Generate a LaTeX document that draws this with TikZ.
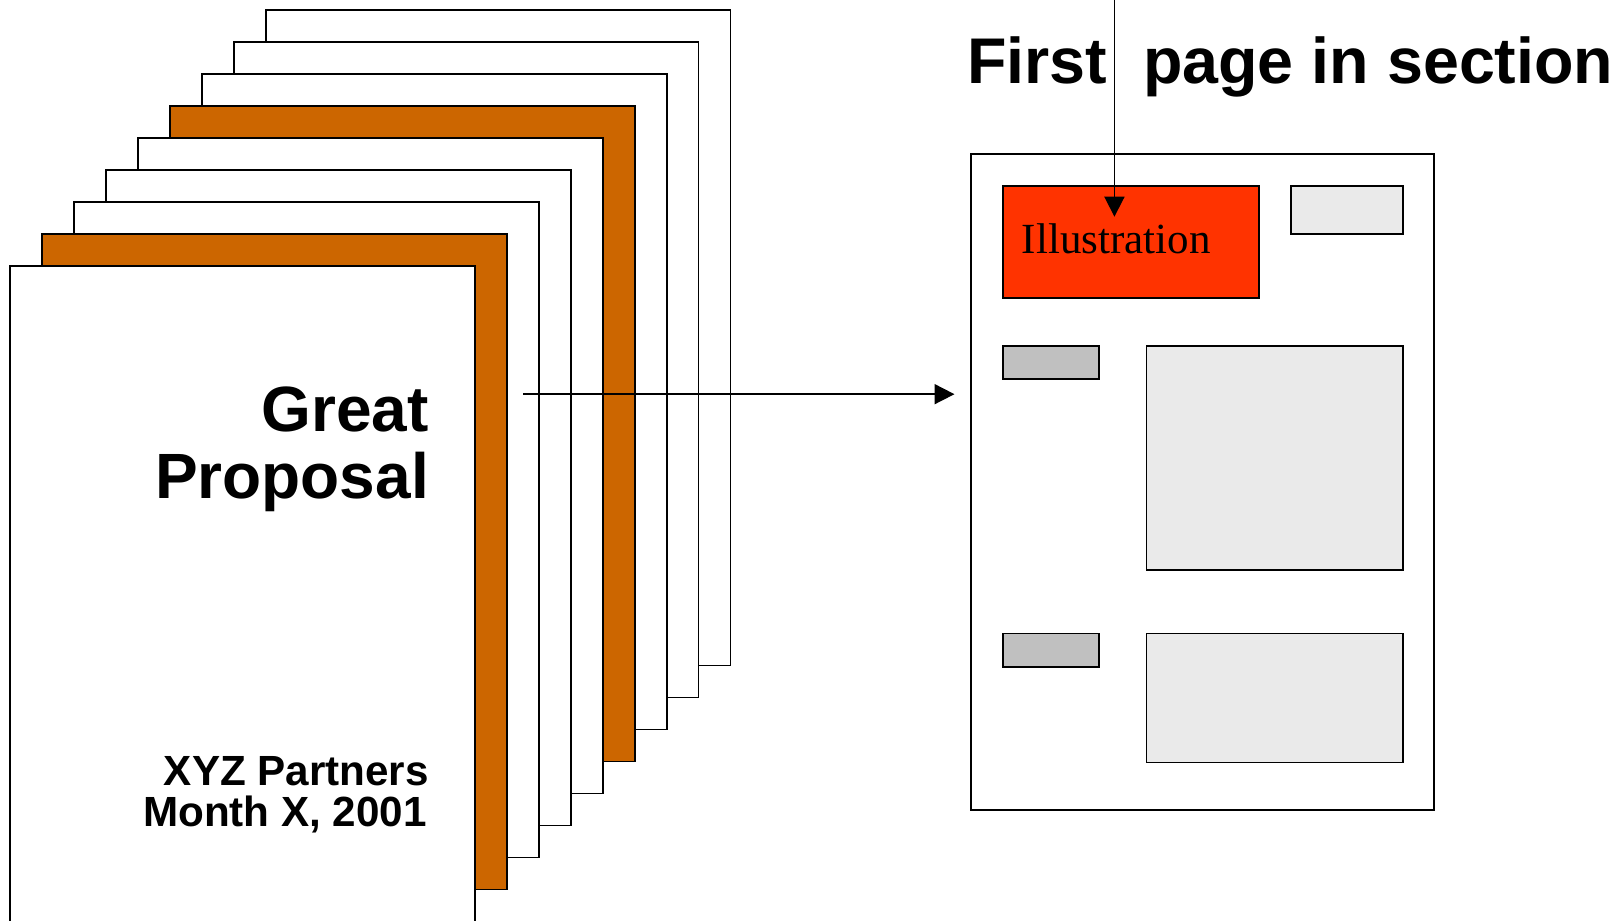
\documentclass[tikz,border=0pt]{standalone}
\usepackage{fontspec}
\setmainfont{Liberation Serif}
\setsansfont{Liberation Sans}
\usepackage{xcolor}
\usepackage{tikz}
\usetikzlibrary{arrows.meta,positioning,fit}

\definecolor{tabpage}{HTML}{CC6600}
\definecolor{illred}{HTML}{FF3300}
\definecolor{boxlight}{HTML}{EAEAEA}
\definecolor{boxdark}{HTML}{C0C0C0}

\begin{document}
\begin{tikzpicture}[x=0.516pt, y=-0.516pt,
sheet/.style={draw, line width=0.9pt},
area/.style={draw, line width=0.9pt, inner sep=0pt},
covertext/.style={font=\fontsize{32}{34}\selectfont\sffamily\bfseries, anchor=base east, inner sep=0pt},
covernote/.style={font=\fontsize{21.1}{23}\selectfont\sffamily\bfseries, anchor=base east, inner sep=0pt},
heading/.style={font=\fontsize{32.3}{34}\selectfont\sffamily\bfseries, anchor=base west, inner sep=0pt},
arrow/.style={-{Triangle[length=10pt,width=10pt]}, line width=0.9pt}
]
\useasboundingbox (0,0) rectangle (1568,893);
\clip (0,0) rectangle (1568,892);

% stack of pages, back to front
\foreach \i/\col in {8/white,7/white,6/white,5/tabpage,4/white,3/white,2/white,1/tabpage,0/white}
  \draw[sheet, fill=\col] ({10+31*\i},{258-31*\i}) rectangle ++(450,635);

\node[covertext] (great) at (416,418) {Great};
\node[covertext] (proposal) at (416,483) {Proposal};
\node[covernote] (partners) at (416,761) {XYZ Partners};
\node[covernote] (month) at (414,801) {Month X, 2001};

% first page of a section
\node[area, fill=white, fit={(941,149) (1390,785)}] (sect) {};
\node[area, fill=illred, fit={(972,180) (1220,289)}] (illus) {};
\node[font=\fontsize{21.5}{23}\selectfont, anchor=base west, inner sep=0pt] (illtext) at (990,246) {Illustration};
\node[area, fill=boxlight, fit={(1251,180) (1360,227)}] (logo) {};
\node[area, fill=boxdark, fit={(972,335) (1065,367)}] (head1) {};
\node[area, fill=boxlight, fit={(1111,335) (1360,552)}] (body1) {};
\node[area, fill=boxdark, fit={(972,614) (1065,646)}] (head2) {};
\node[area, fill=boxlight, fit={(1111,614) (1360,739)}] (body2) {};

\node[heading] (title) at (937,81) {First\ \ page in section};

\coordinate (arrstart) at (507,382);
\coordinate (arrtip) at (925,382);
\coordinate (toptail) at (1080,0);
\coordinate (toptip) at (1080,210);
\draw[arrow] (arrstart) -- (arrtip);
\draw[arrow] (toptail) -- (toptip);
\end{tikzpicture}
\end{document}
